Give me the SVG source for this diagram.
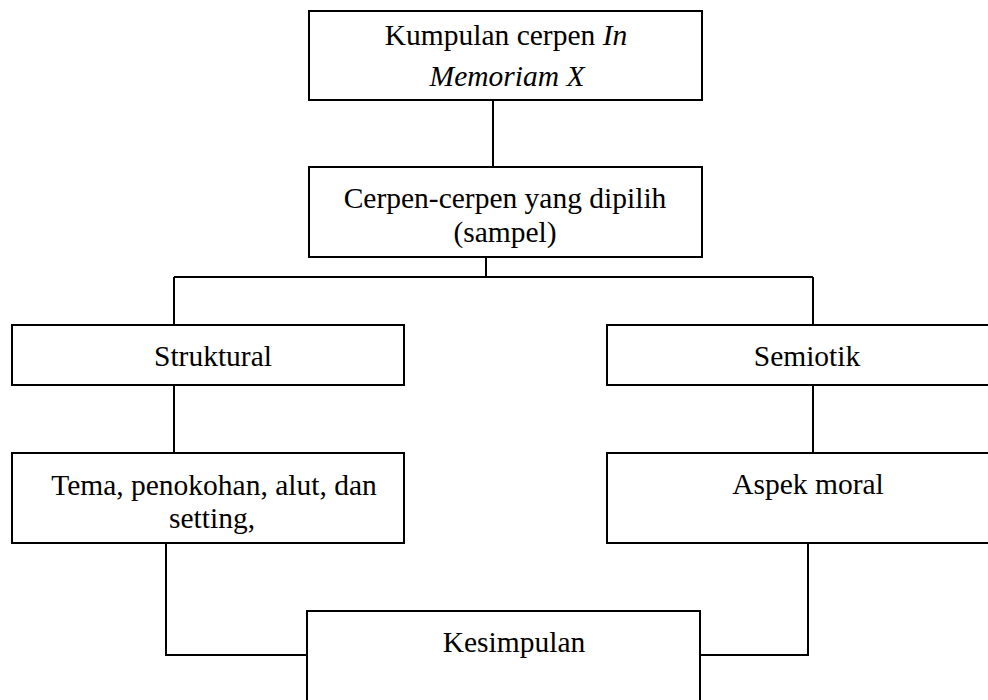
<svg xmlns="http://www.w3.org/2000/svg" width="988" height="700" viewBox="0 0 988 700">
<style>
.box{fill:#fff;stroke:#000;stroke-width:2}
.ln{fill:none;stroke:#000;stroke-width:2}
text{font-family:"Liberation Serif","Times New Roman",serif;font-size:29.5px;fill:#000;text-anchor:middle}
</style>
<rect width="988" height="700" fill="#fff"/>
<g id="connectors">
<path class="ln" d="M493 97V167"/>
<path class="ln" d="M486 255V277"/>
<path class="ln" d="M174 277H813"/>
<path class="ln" d="M174 277V325M174 385V453"/>
<path class="ln" d="M813 277V325M813 385V453"/>
<path class="ln" d="M166 540V655H307"/>
<path class="ln" d="M808 539V655H694"/>
</g>
<g id="n1"><rect class="box" x="309" y="11" width="393" height="89"/>
<text x="506" y="45">Kumpulan cerpen <tspan font-style="italic">In</tspan></text>
<text x="507" y="86" font-style="italic">Memoriam X</text></g>
<g id="n2"><rect class="box" x="309" y="167" width="393" height="90"/>
<text x="505" y="208">Cerpen-cerpen yang dipilih</text>
<text x="505" y="242">(sampel)</text></g>
<g id="n3"><rect class="box" x="12" y="325" width="392" height="60"/>
<text x="213" y="366">Struktural</text></g>
<g id="n4"><rect class="box" x="607" y="325" width="400" height="60"/>
<text x="807" y="366">Semiotik</text></g>
<g id="n5"><rect class="box" x="12" y="453" width="392" height="90"/>
<text x="214" y="495">Tema, penokohan, alut, dan</text>
<text x="212" y="528">setting,</text></g>
<g id="n6"><rect class="box" x="607" y="453" width="400" height="90"/>
<text x="808" y="494">Aspek moral</text></g>
<g id="n7"><rect class="box" x="307" y="611" width="393" height="110"/>
<text x="514" y="652">Kesimpulan</text></g>
</svg>
